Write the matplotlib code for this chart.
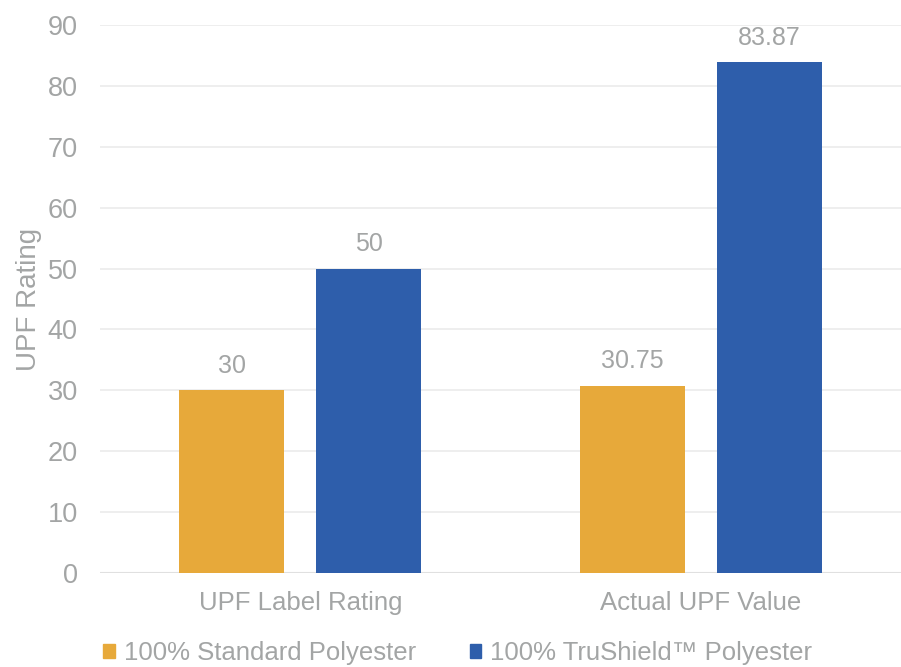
import matplotlib
matplotlib.use("Agg")
import matplotlib.pyplot as plt
import numpy as np
from matplotlib.patches import Patch

categories = ["UPF Label Rating", "Actual UPF Value"]
series_names = ["100% Standard Polyester", "100% TruShield\u2122 Polyester"]
standard = [30, 30.75]
trushield = [50, 83.87]
labels_std = ["30", "30.75"]
labels_tru = ["50", "83.87"]
yticks = [0, 10, 20, 30, 40, 50, 60, 70, 80, 90]

orange = "#E7A93A"
blue = "#2E5EAB"
gray = "#A3A5A5"

plt.rcParams['font.family'] = ['Liberation Sans', 'DejaVu Sans']

fig = plt.figure(figsize=(9.01, 6.67), dpi=100)
ax = fig.add_axes([0.111, 0.141, 0.889, 0.8215])

x = np.arange(len(categories))
w = 0.262
off = 0.171
b1 = ax.bar(x - off, standard, w, color=orange, zorder=3)
b2 = ax.bar(x + off, trushield, w, color=blue, zorder=3)

for bars, labs in ((b1, labels_std), (b2, labels_tru)):
    for r, lab in zip(bars, labs):
        ax.annotate(lab, (r.get_x() + r.get_width() / 2, r.get_height()),
                    xytext=(0, 9), textcoords="offset points",
                    ha="center", va="bottom", fontsize=18, color=gray)

ax.set_xlim(-0.5, 1.5)
ax.set_ylim(0, 90)
ax.set_yticks(yticks)
ax.set_xticks(x)
ax.set_xticklabels(categories)
ax.tick_params(axis='y', length=0, labelsize=19.5, labelcolor=gray, pad=16)
ax.tick_params(axis='x', length=0, labelsize=18.5, labelcolor=gray, pad=13)
ax.yaxis.grid(True, color="#EBEBEB", linewidth=1.2, zorder=0)
for s in ax.spines.values():
    s.set_visible(False)
ax.axhline(0, color="#E0E0E0", linewidth=1.5, zorder=2)

fig.text(0.032, 0.551, "UPF Rating", rotation=90, ha="center", va="center",
         fontsize=20, color=gray)

handles = [Patch(color=orange), Patch(color=blue)]
leg = fig.legend(handles, series_names, loc="center", bbox_to_anchor=(0.508, 0.021),
                 ncol=2, frameon=False, fontsize=18.5, handlelength=0.45, handleheight=0.45,
                 handletextpad=0.35, columnspacing=2.1, labelcolor=gray)

fig.savefig("out.png", dpi=100, facecolor="white")
